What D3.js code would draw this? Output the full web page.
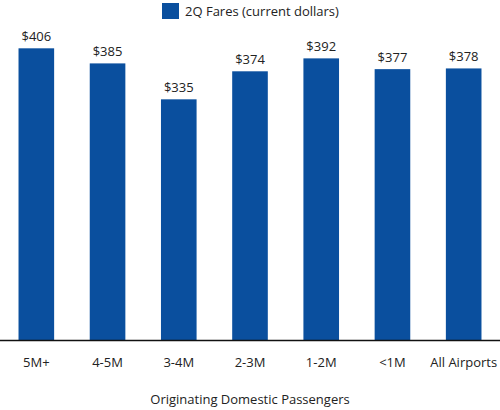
<!DOCTYPE html>
<html><head><meta charset="utf-8">
<script src="https://cdn.jsdelivr.net/npm/d3@7"></script>
<style>html,body{margin:0;padding:0;background:#fff;}svg{display:block;font-family:"Open Sans",sans-serif;}</style>
</head><body>
<div id="chart"></div>
<script>
const categories = ["5M+", "4-5M", "3-4M", "2-3M", "1-2M", "<1M", "All Airports"];
const fares = [406, 385, 335, 374, 392, 377, 378];
const seriesName = "2Q Fares (current dollars)";
const axisTitle = "Originating Domestic Passengers";

const W = 500, H = 410;
const color = "#0a4f9e";
const svg = d3.select("#chart").append("svg").attr("width", W).attr("height", H);

const x = d3.scaleBand().domain(categories).range([0, 500]).paddingInner(0.5).paddingOuter(0.26);
const y = d3.scaleLinear().domain([0, 450]).range([340, 16.7]);

svg.selectAll("rect.bar").data(fares).join("rect").attr("class", "bar")
  .attr("x", (d, i) => x(categories[i]))
  .attr("y", d => y(d))
  .attr("width", x.bandwidth())
  .attr("height", d => y(0) - y(d))
  .attr("fill", color);

svg.selectAll("text.val").data(fares).join("text").attr("class", "val")
  .attr("x", (d, i) => x(categories[i]) + x.bandwidth() / 2)
  .attr("y", d => y(d) - 7)
  .attr("text-anchor", "middle")
  .attr("font-size", 13)
  .attr("fill", "#222")
  .text(d => "$" + d);

const axis = svg.append("g").attr("transform", "translate(0,340)")
  .call(d3.axisBottom(x).tickSize(0).tickPadding(18));
axis.select(".domain").attr("stroke", "#111").attr("stroke-width", 1.3).attr("d", "M0,0.5H500");
axis.selectAll("text").attr("font-size", 13).attr("fill", "#222").attr("font-family", "Open Sans, sans-serif");

svg.append("text").attr("x", 250).attr("y", 404).attr("text-anchor", "middle")
  .attr("font-size", 13).attr("fill", "#222").text(axisTitle);

const lg = svg.append("g");
lg.append("rect").attr("x", 162).attr("y", 3).attr("width", 17).attr("height", 16).attr("fill", color);
lg.append("text").attr("x", 185).attr("y", 16).attr("font-size", 13).attr("fill", "#222").text(seriesName);
</script>
</body></html>
